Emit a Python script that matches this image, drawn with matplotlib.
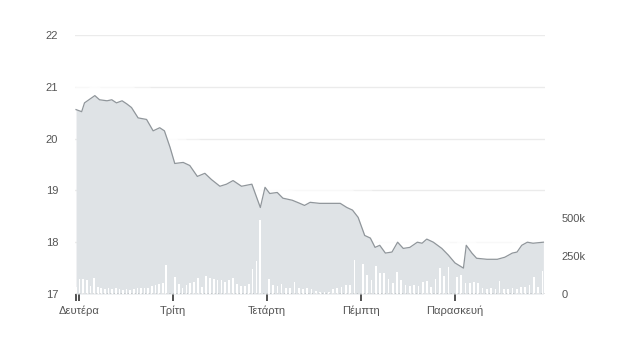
import numpy as np
import matplotlib.pyplot as plt

# price line: time in trading days (0 = Monday open), price
times = [-0.03, 0.03, 0.06, 0.17, 0.22, 0.30, 0.35, 0.40, 0.46, 0.51, 0.56, 0.63, 0.72,
         0.79, 0.86, 0.91, 0.97, 1.02, 1.11, 1.18, 1.26, 1.34, 1.41, 1.50, 1.57, 1.64,
         1.73, 1.84, 1.93, 1.98, 2.03, 2.11, 2.17, 2.27, 2.35, 2.40, 2.46, 2.56, 2.67,
         2.78, 2.85, 2.91, 2.97, 3.04, 3.10, 3.15, 3.20, 3.26, 3.33, 3.39, 3.45, 3.52,
         3.60, 3.65, 3.70, 3.77, 3.86, 3.93, 4.00, 4.09, 4.12, 4.18, 4.23, 4.34, 4.45,
         4.53, 4.61, 4.66, 4.71, 4.77, 4.83, 4.94]
prices = [20.56, 20.52, 20.69, 20.83, 20.75, 20.73, 20.75, 20.69, 20.73, 20.67, 20.60,
          20.40, 20.37, 20.15, 20.21, 20.15, 19.83, 19.52, 19.54, 19.48, 19.27, 19.33,
          19.21, 19.08, 19.12, 19.19, 19.08, 19.12, 18.67, 19.06, 18.94, 18.96, 18.85,
          18.81, 18.75, 18.71, 18.77, 18.75, 18.75, 18.75, 18.67, 18.62, 18.48, 18.13,
          18.08, 17.90, 17.94, 17.79, 17.81, 18.00, 17.88, 17.90, 18.00, 17.98, 18.06,
          18.00, 17.88, 17.75, 17.60, 17.50, 17.94, 17.79, 17.69, 17.67, 17.67, 17.71,
          17.79, 17.81, 17.94, 18.00, 17.98, 18.00]

# volume in thousands, per day
vol_mon = [46, 99, 99, 92, 53, 105, 46, 39, 33, 39, 33, 39, 33, 26, 33, 26, 33, 39, 39,
           39, 39, 53, 59, 66, 72, 191]
vol_tue = [112, 66, 39, 59, 72, 79, 105, 46, 118, 105, 99, 92, 92, 79, 92, 105, 66, 53,
           53, 66, 164, 217, 487]
vol_wed = [99, 59, 53, 66, 39, 39, 79, 39, 33, 39, 33, 20, 13, 13, 13, 33, 39, 46, 59,
           59, 224]
vol_thu = [197, 125, 92, 184, 138, 138, 99, 72, 145, 92, 59, 53, 59, 53, 79, 86, 46, 99,
           171, 118, 178]
vol_fri = [112, 125, 72, 72, 79, 72, 39, 33, 39, 33, 86, 33, 33, 39, 33, 46, 46, 59, 112,
           46, 151]

days = ['Δευτέρα', 'Τρίτη', 'Τετάρτη', 'Πέμπτη', 'Παρασκευή']
price_ticks = [17, 18, 19, 20, 21, 22]
vol_ticks = [0, 250, 500]
vol_labels = ['0', '250k', '500k']

plt.rcParams['font.family'] = ['Liberation Sans', 'DejaVu Sans']
fig = plt.figure(figsize=(6.34, 3.37), dpi=100)
ax = fig.add_axes([0.118, 0.1276, 0.742, 0.7685])

label_col = '#555555'
fill_col = '#dfe3e6'

for y in price_ticks[1:]:
    ax.axhline(y, color='#ebebeb', lw=1, zorder=0)

# soft white glow above the line
for lw, a in [(40, 0.35), (26, 0.5), (14, 0.7)]:
    ax.plot(times, prices, color='white', lw=lw, alpha=a, solid_capstyle='round', zorder=1)
ax.fill_between(times, prices, 17, color=fill_col, lw=0, zorder=2)
ax.plot(times, prices, color='#90969b', lw=0.9, zorder=3)

ax.set_xlim(-0.043, 4.96)
ax.set_ylim(17, 22)
ax.set_yticks(price_ticks)
ax.tick_params(axis='y', length=0, pad=12, labelsize=8, labelcolor=label_col)
ax.set_xticks(range(len(days)))
ax.set_xticklabels(days)
ax.set_xticks([times[0]], minor=True)
ax.tick_params(axis='x', which='both', direction='out', length=5, width=1.2,
               color='#333333', labelsize=8, labelcolor=label_col, pad=3)
for s in ax.spines.values():
    s.set_visible(False)

ax2 = ax.twinx()
for d, vols in enumerate([vol_mon, vol_tue, vol_wed, vol_thu, vol_fri]):
    start = times[0] if d == 0 else d + 0.02
    bx = np.linspace(start, d + 0.93, len(vols))
    ax2.bar(bx, vols, width=0.018, color='white', lw=0, zorder=4)
ax2.axhline(0, color='#555555', lw=1, ls=(0, (1, 1.5)), zorder=5)
ax2.set_ylim(0, 1704)
ax2.set_yticks(vol_ticks)
ax2.set_yticklabels(vol_labels)
ax2.tick_params(axis='y', length=0, pad=12, labelsize=8, labelcolor=label_col)
for s in ax2.spines.values():
    s.set_visible(False)

fig.savefig('out.png', dpi=100, facecolor='white')
